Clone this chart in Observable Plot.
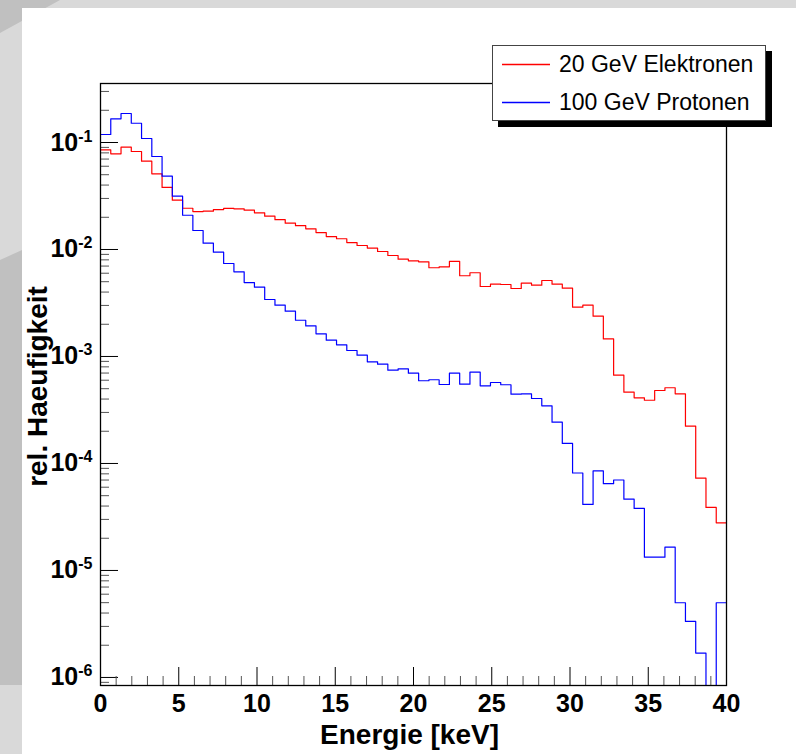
<!DOCTYPE html>
<html>
<head>
<meta charset="utf-8">
<script src="https://cdn.jsdelivr.net/npm/d3@7"></script>
<script src="https://cdn.jsdelivr.net/npm/@observablehq/plot@0.6"></script>
<style>
  html, body { margin: 0; padding: 0; }
  body { width: 796px; height: 754px; position: relative; overflow: hidden; background: #d9d9d9;
         font-family: "Liberation Sans", Arial, Helvetica, sans-serif; }
  #bg { position: absolute; left: 0; top: 0; }
  #panel { position: absolute; left: 22px; top: 8px; width: 774px; height: 746px; background: #fff; }
  #chart { position: absolute; left: 0; top: 0; }
  #legend { position: absolute; left: 492px; top: 45px; width: 274px; height: 76px; box-sizing: border-box;
            border: 1px solid #444; background: #fff; box-shadow: 6px 6px 0 #000; }
  #legend svg { position: absolute; left: 0; top: 0; }
  .entry { position: absolute; left: 66px; font-size: 23px; line-height: 28px; color: #000; white-space: nowrap; }
</style>
</head>
<body>
<svg id="bg" width="796" height="754">
  <polygon points="0,0 60,0 0,33" fill="#c0c0c0"></polygon>
  <polygon points="0,260 22,250 22,685 0,685" fill="#c0c0c0"></polygon>
</svg>
<div id="panel"></div>
<div id="chart"></div>
<div id="legend"></div>
<script>
// ---- data ----
const energyMin = 0;
const energyMax = 40;
const nBins = 61;

const seriesNames = ["20 GeV Elektronen", "100 GeV Protonen"];
const seriesColors = ["#ff0000", "#0000ff"];

const electrons = [
  0.0855, 0.0784, 0.0904, 0.0824, 0.0669, 0.0510, 0.0380, 0.0289, 0.0243, 0.0226,
  0.0228, 0.0236, 0.0242, 0.0240, 0.0233, 0.0220, 0.0205, 0.0190, 0.0176, 0.0167,
  0.0156, 0.0144, 0.0132, 0.0126, 0.0116, 0.0109, 0.0103, 0.00958, 0.00879, 0.00812,
  0.00784, 0.00767, 0.00675, 0.00689, 0.00773, 0.00568, 0.00606, 0.00451, 0.00474, 0.00471,
  0.00432, 0.00484, 0.00464, 0.00513, 0.00474, 0.00435, 0.00289, 0.00302, 0.00238, 0.00146,
  0.000669, 0.000464, 0.000411, 0.000390, 0.000481, 0.000510, 0.000448, 0.000223, 0.0000729, 0.0000388,
  0.0000279
];

const protons = [
  0.1188, 0.1665, 0.1866, 0.1514, 0.1090, 0.0740, 0.0484, 0.0315, 0.0209, 0.01505,
  0.01145, 0.00944, 0.0074, 0.00619, 0.00491, 0.00444, 0.00341, 0.00302, 0.00265, 0.00218,
  0.00193, 0.00163, 0.00142, 0.001286, 0.001138, 0.001028, 0.000892, 0.000847, 0.000745, 0.000767,
  0.000698, 0.000593, 0.000606, 0.000547, 0.000698, 0.000551, 0.000713, 0.000532, 0.000571, 0.000544,
  0.000444, 0.000448, 0.000405, 0.000346, 0.000243, 0.000154, 0.0000815, 0.0000414, 0.0000851, 0.0000648,
  0.0000701, 0.0000464, 0.000038, 0.0000133, 0.0000133, 0.0000165, 0.00000499, 0.00000334, 0.00000169, 0,
  0.00000499
];

const xMajorTicks = [0, 5, 10, 15, 20, 25, 30, 35, 40];
const xMinorTicks = d3.range(0, 41).filter(d => d % 5 !== 0);
const yMajorTicks = [1e-6, 1e-5, 1e-4, 1e-3, 1e-2, 1e-1];
const yDomain = [8.41e-7, 0.356];
const yMinorTicks = [];
for (let e = -7; e <= -1; e++) for (let m = 2; m <= 9; m++) {
  const v = m * Math.pow(10, e);
  if (v > yDomain[0] && v < yDomain[1]) yMinorTicks.push(v);
}

const xTitle = "Energie [keV]";
const yTitle = "rel. Haeufigkeit";

// ---- build histogram outlines ----
const binWidth = (energyMax - energyMin) / nBins;
function histPoints(values) {
  const pts = values.map((v, i) => ({x: energyMin + i * binWidth, y: v > 0 ? v : yDomain[0]}));
  pts.push({x: energyMax, y: pts[pts.length - 1].y});
  return pts;
}
const seriesData = [electrons, protons];

const font = '"Liberation Sans", Arial, Helvetica, sans-serif';

const plot = Plot.plot({
  width: 796,
  height: 754,
  marginLeft: 100,
  marginRight: 70,
  marginTop: 83,
  marginBottom: 69,
  style: {background: "transparent", fontFamily: font, color: "#000", overflow: "visible"},
  x: {domain: [energyMin, energyMax]},
  y: {type: "log", domain: yDomain},
  marks: [
    ...seriesData.map((vals, k) =>
      Plot.line(histPoints(vals), {x: "x", y: "y", curve: "step-after", stroke: seriesColors[k], strokeWidth: 1.2, clip: true})
    ),
    // inward ticks
    Plot.axisY({ticks: yMinorTicks, tickSize: 9, dx: 9, tickFormat: () => "", stroke: "#555", label: null}),
    Plot.axisY({ticks: yMajorTicks, tickSize: 18, dx: 18, tickFormat: () => "", stroke: "#000", label: null}),
    Plot.axisX({ticks: xMinorTicks, tickSize: 9, dy: -9, tickFormat: () => "", stroke: "#555", label: null}),
    Plot.axisX({ticks: xMajorTicks, tickSize: 18, dy: -18, tickFormat: () => "", stroke: "#000", label: null}),
    // tick labels
    Plot.axisY({ticks: yMajorTicks, tickSize: 0, tickPadding: 8, fontSize: 25, fontWeight: "bold",
                tickFormat: d => "10" + Math.round(Math.log10(d)), label: null}),
    Plot.axisX({ticks: xMajorTicks, tickSize: 0, tickPadding: 9, fontSize: 25, fontWeight: "bold",
                tickFormat: d => String(d), label: null}),
    Plot.frame({stroke: "#000", strokeWidth: 1.3}),
    // axis titles
    Plot.text([xTitle], {text: d => d, frameAnchor: "bottom", dy: 50, dx: -4, fontSize: 28, fontWeight: "bold",
                         textAnchor: "middle", lineAnchor: "middle"}),
    Plot.text([yTitle], {text: d => d, frameAnchor: "left", dx: -62, dy: 2, rotate: -90, fontSize: 28, fontWeight: "bold",
                         textAnchor: "middle", lineAnchor: "middle"})
  ]
});

document.getElementById("chart").appendChild(plot);

// superscript exponents on y tick labels
const ns = "http://www.w3.org/2000/svg";
plot.querySelectorAll("text").forEach(t => {
  const s = t.textContent;
  const m = /^10(-\d+)$/.exec(s);
  if (!m) return;
  t.textContent = "";
  const base = document.createElementNS(ns, "tspan");
  base.textContent = "10";
  const sup = document.createElementNS(ns, "tspan");
  sup.textContent = m[1];
  sup.setAttribute("dy", "-9");
  sup.setAttribute("font-size", "16");
  t.appendChild(base);
  t.appendChild(sup);
});

// legend
const legend = document.getElementById("legend");
const lsvg = document.createElementNS(ns, "svg");
lsvg.setAttribute("width", "272");
lsvg.setAttribute("height", "74");
legend.appendChild(lsvg);
seriesNames.forEach((name, k) => {
  const yc = k === 0 ? 18.5 : 56.5;
  const ln = document.createElementNS(ns, "path");
  ln.setAttribute("d", `M9,${yc}H57`);
  ln.setAttribute("fill", "none");
  ln.setAttribute("style", `stroke:${seriesColors[k]};stroke-width:1.3px`);
  lsvg.appendChild(ln);
  const sp = document.createElement("div");
  sp.className = "entry";
  sp.style.top = (yc - 14.5) + "px";
  sp.textContent = name;
  legend.appendChild(sp);
});
</script>
</body>
</html>
